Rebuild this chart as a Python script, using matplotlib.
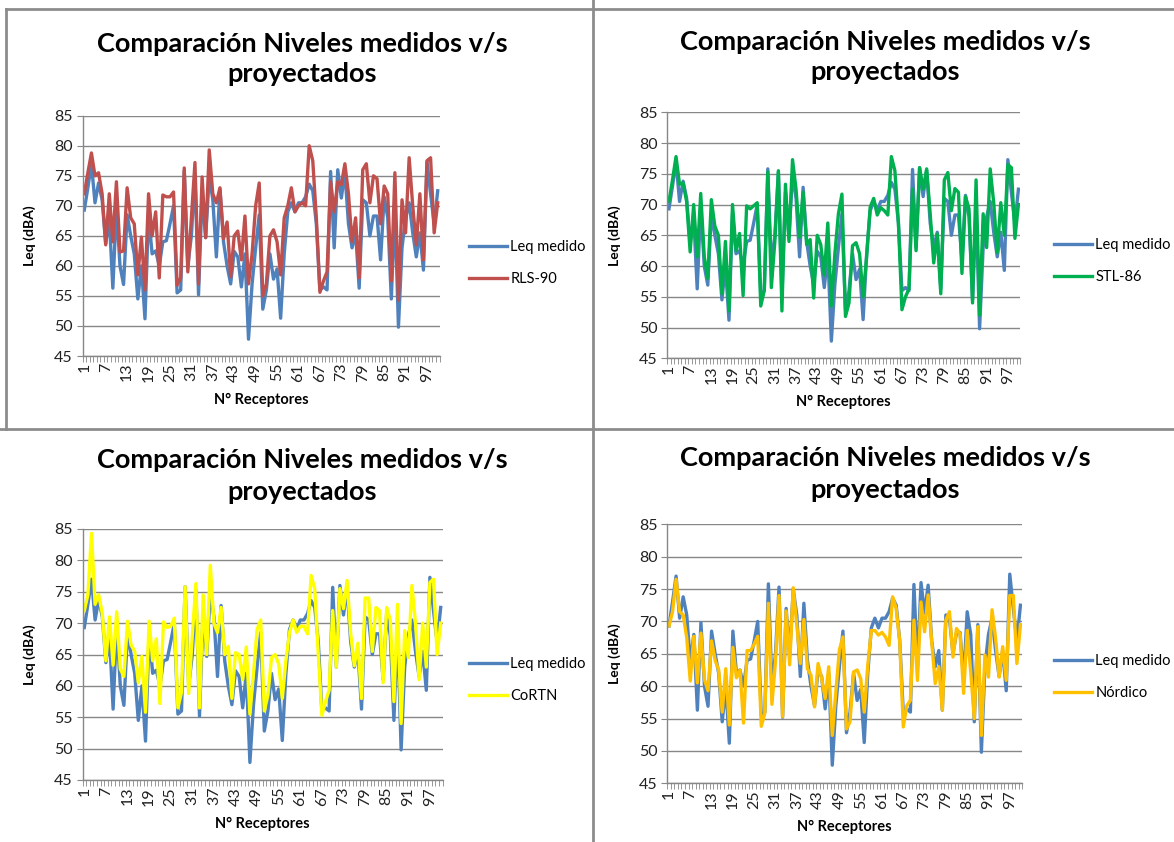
import numpy as np
import matplotlib
matplotlib.use("Agg")
import matplotlib.pyplot as plt
from matplotlib.lines import Line2D

plt.rcParams["font.family"] = ["Lato", "DejaVu Sans"]

# ── Data ────────────────────────────────────────────────────────────────────
receptores = np.arange(1, 101)

leq_medido = [
    69.3, 73.0, 77.0, 70.5, 73.8, 71.0, 63.7, 68.0, 56.3, 69.8,
    60.0, 56.9, 68.5, 65.0, 62.0, 54.5, 60.0, 51.2, 68.5, 62.0,
    62.5, 60.0, 64.0, 64.2, 67.0, 70.0, 55.5, 56.0, 75.8, 60.0,
    65.0, 75.3, 55.2, 72.0, 64.7, 75.0, 71.0, 61.5, 72.8, 64.0,
    60.0, 57.0, 62.4, 61.5, 56.5, 62.0, 47.8, 57.0, 63.0, 68.5,
    52.8, 56.0, 62.0, 57.8, 59.5, 51.3, 62.0, 69.0, 70.5, 69.0,
    70.5, 70.5, 71.5, 73.6, 72.5, 67.0, 56.0, 56.5, 56.0, 75.7,
    63.0, 76.0, 71.3, 75.6, 67.0, 63.0, 65.5, 56.3, 71.0, 70.5,
    65.0, 68.3, 68.3, 61.0, 71.5, 68.0, 54.5, 69.5, 49.8, 63.0,
    68.0, 70.5, 65.5, 61.5, 65.5, 59.3, 77.3, 72.0, 67.0, 72.5,
]

rls_90 = [
    72.0, 75.5, 78.8, 75.0, 75.5, 72.0, 63.5, 72.0, 64.0, 74.0,
    62.3, 62.5, 73.0, 68.0, 67.0, 58.5, 64.8, 56.0, 72.0, 65.0,
    69.0, 58.0, 71.8, 71.5, 71.5, 72.3, 56.8, 58.0, 76.3, 59.0,
    68.0, 77.2, 57.0, 74.8, 64.7, 79.3, 72.0, 70.5, 73.0, 64.5,
    67.3, 58.2, 65.0, 65.8, 61.0, 68.3, 57.0, 62.0, 70.0, 73.8,
    55.0, 57.0, 65.0, 66.0, 64.0, 58.5, 68.0, 70.0, 73.0, 69.0,
    70.0, 70.5, 70.0, 80.0, 77.5, 68.0, 55.6, 57.5, 59.0, 74.0,
    69.0, 74.0, 73.5, 77.0, 72.0, 64.0, 68.0, 58.0, 76.0, 77.0,
    70.5, 75.0, 74.5, 67.0, 73.3, 72.0, 57.5, 75.5, 54.3, 71.0,
    65.5, 78.0, 70.0, 63.5, 72.0, 61.0, 77.5, 78.0, 65.5, 70.5,
]

stl_86 = [
    70.5, 74.0, 77.8, 73.3, 73.5, 70.5, 62.3, 70.0, 61.5, 71.8,
    61.5, 58.0, 70.8, 66.5, 65.0, 55.5, 64.0, 52.7, 70.0, 62.5,
    65.3, 55.2, 69.8, 69.3, 69.8, 70.3, 53.5, 56.0, 75.3, 56.5,
    64.0, 75.5, 52.7, 73.3, 64.0, 77.3, 72.5, 64.7, 72.0, 63.5,
    64.3, 54.8, 65.0, 63.5, 58.5, 67.0, 53.5, 62.0, 68.5, 71.7,
    51.8, 54.0, 63.3, 63.8, 62.0, 55.0, 61.5, 69.6, 71.0, 68.3,
    69.5, 69.0, 68.3, 77.8, 75.5, 67.0, 52.9, 55.0, 56.3, 72.5,
    62.5, 76.0, 72.5, 75.8, 68.5, 60.5, 65.2, 55.5, 74.0, 75.2,
    69.0, 72.6, 72.0, 58.8, 71.3, 69.3, 54.0, 74.0, 52.0, 68.5,
    63.0, 75.8, 70.3, 62.2, 70.3, 65.0, 76.5, 76.0, 64.5, 70.0,
]

cortn = [
    72.0, 74.5, 84.3, 73.0, 74.5, 71.5, 64.0, 71.0, 63.3, 71.8,
    62.7, 61.5, 70.3, 66.5, 65.5, 60.5, 64.7, 55.8, 70.3, 64.0,
    67.5, 57.2, 70.2, 69.3, 69.5, 70.8, 56.5, 59.0, 75.8, 58.8,
    68.0, 76.3, 56.5, 74.5, 65.0, 79.2, 70.0, 68.5, 72.5, 65.0,
    66.3, 58.0, 65.3, 65.0, 61.0, 66.2, 55.5, 62.0, 69.0, 70.5,
    56.0, 58.5, 64.5, 65.0, 63.5, 58.0, 64.0, 68.5, 70.5, 68.5,
    69.5, 69.5, 68.3, 77.6, 75.5, 65.0, 55.3, 57.5, 59.3, 72.0,
    63.0, 75.5, 72.3, 76.8, 68.3, 63.2, 66.8, 58.0, 74.0, 74.0,
    65.5, 72.5, 72.0, 60.5, 72.5, 70.5, 57.5, 73.0, 54.0, 68.8,
    64.5, 76.0, 70.0, 61.0, 70.0, 63.0, 76.5, 77.0, 65.0, 70.0,
]

nordico = [
    69.3, 71.5, 76.5, 71.5, 71.0, 67.5, 60.8, 67.7, 60.5, 68.2,
    61.0, 59.3, 67.0, 64.0, 62.5, 56.0, 62.7, 54.0, 66.0, 61.3,
    62.5, 54.3, 65.5, 65.5, 66.5, 67.7, 53.8, 55.8, 72.8, 57.2,
    63.8, 74.0, 55.3, 71.6, 63.3, 75.2, 69.5, 63.5, 70.3, 62.7,
    61.7, 56.8, 63.5, 61.2, 58.1, 63.0, 52.4, 59.1, 65.6, 67.6,
    53.4, 54.5, 62.2, 62.5, 61.2, 56.0, 63.2, 68.6, 68.6, 67.9,
    68.3, 67.6, 66.3, 73.8, 72.0, 66.9, 53.7, 57.0, 57.8, 70.2,
    60.9, 73.0, 68.4, 74.1, 66.9, 60.4, 63.0, 56.3, 70.2, 71.5,
    64.5, 68.9, 68.1, 58.9, 68.6, 62.2, 55.0, 69.2, 52.4, 64.8,
    61.4, 71.8, 67.4, 61.4, 66.1, 60.9, 74.0, 74.0, 63.5, 69.5,
]

yticks = [45, 50, 55, 60, 65, 70, 75, 80, 85]
xtick_labels = list(range(1, 101, 6))

TITLE = "Comparación Niveles medidos v/s\nproyectados"
BLUE = "#4F81BD"

# ── Layout (pixels on a 1174x842 canvas) ────────────────────────────────────
W, H = 1174, 842
fig = plt.figure(figsize=(W / 100, H / 100), dpi=100)
fig.patch.set_facecolor("white")


def rect(x0, y0, x1, y1):
    return [x0 / W, 1 - y1 / H, (x1 - x0) / W, (y1 - y0) / H]


panels = [
    # (plot area, title center, legend x, legend y, series, label, colour)
    (rect(82.5, 115.7, 439.5, 356.0), (302, 59), (463, 263), rls_90, "RLS-90", "#C0504D"),
    (rect(667.2, 112.3, 1020.2, 358.3), (885, 57), (1048, 261), stl_86, "STL-86", "#00B050"),
    (rect(82.5, 529.0, 442.5, 780.0), (302, 476), (463, 680), cortn, "CoRTN", "#FFFF00"),
    (rect(667.2, 524.3, 1022.2, 783.3), (885, 474), (1048, 677), nordico, "Nórdico", "#FFC000"),
]

for box, (tx, ty), (lx, ly), model, name, color in panels:
    ax = fig.add_axes(box)
    ax.plot(receptores, leq_medido, color=BLUE, lw=2.4, solid_joinstyle="round")
    ax.plot(receptores, model, color=color, lw=2.4, solid_joinstyle="round")
    ax.set_xlim(0.5, 100.5)
    ax.set_ylim(45, 85)
    ax.set_yticks(yticks)
    ax.set_xticks(xtick_labels)
    ax.set_xticklabels([str(v) for v in xtick_labels], rotation=90)
    ax.set_xticks(np.arange(0.5, 101, 1), minor=True)
    ax.tick_params(axis="x", which="major", length=0, pad=5, labelsize=11.5, colors="#222222")
    ax.tick_params(axis="x", which="minor", length=4, color="#878787", direction="out")
    ax.tick_params(axis="y", length=4, color="#878787", labelsize=11.5, colors="#222222", pad=3)
    ax.grid(axis="y", color="#878787", lw=1)
    ax.set_axisbelow(True)
    for s in ("top", "right"):
        ax.spines[s].set_visible(False)
    for s in ("left", "bottom"):
        ax.spines[s].set_color("#878787")
        ax.spines[s].set_linewidth(1)
    ax.set_ylabel("Leq (dBA)", fontsize=10, fontweight="bold", labelpad=13)
    ax.set_xlabel("N° Receptores", fontsize=10.5, fontweight="bold", labelpad=8)

    fig.text(tx / W, 1 - ty / H, TITLE, ha="center", va="center",
             fontsize=19.5, fontweight="bold", linespacing=1.35)

    handles = [Line2D([], [], color=BLUE, lw=2.4), Line2D([], [], color=color, lw=2.4)]
    ax.legend(handles, ["Leq medido", name], loc="center left",
              bbox_to_anchor=(lx / W, 1 - ly / H), bbox_transform=fig.transFigure,
              frameon=False, fontsize=10.5, handlelength=2.6, handletextpad=0.25,
              labelspacing=1.2, borderaxespad=0)

# panel borders
border = dict(color="#8C8C8C", lw=2, transform=fig.transFigure)
fig.add_artist(Line2D([6 / W, W / W], [1 - 9 / H, 1 - 9 / H], **border))
fig.add_artist(Line2D([6 / W, 6 / W], [1 - 9 / H, 1 - 429 / H], **border))
fig.add_artist(Line2D([0, 1], [1 - 429 / H, 1 - 429 / H], **border))
fig.add_artist(Line2D([593 / W, 593 / W], [1 - 0 / H, 0], **border))

fig.savefig("out.png", dpi=100, facecolor="white")
